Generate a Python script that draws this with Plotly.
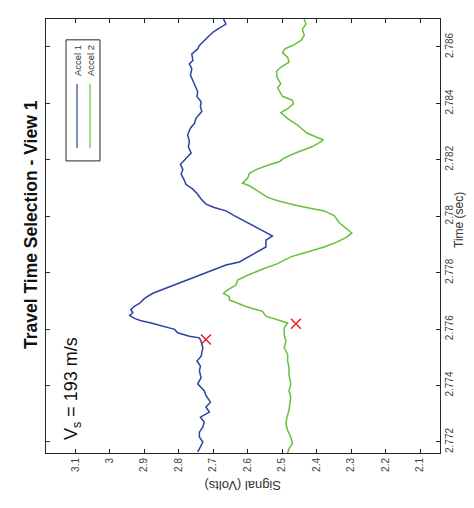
import plotly.graph_objects as go

# ---- data ----
t1 = [2.78699, 2.78681, 2.78663, 2.78652, 2.78634, 2.78622, 2.78605, 2.78593, 2.78575, 2.78552,
      2.78540, 2.78522, 2.78499, 2.78481, 2.78458, 2.78441, 2.78424, 2.78406, 2.78388, 2.78371,
      2.78347, 2.78330, 2.78312, 2.78289, 2.78265, 2.78247, 2.78224, 2.78200, 2.78184, 2.78166,
      2.78149, 2.78131, 2.78113, 2.78096, 2.78078, 2.78061, 2.78043, 2.78031, 2.78019, 2.78002,
      2.77984, 2.77966, 2.77949, 2.77930, 2.77915, 2.77891, 2.77874, 2.77856, 2.77838, 2.77827,
      2.77809, 2.77791, 2.77774, 2.77762, 2.77744, 2.77727, 2.77709, 2.77691, 2.77680, 2.77669,
      2.77659, 2.77648, 2.77637, 2.77630, 2.77622, 2.77610, 2.77599, 2.77587, 2.77575, 2.77569,
      2.77557, 2.77534, 2.77504, 2.77487, 2.77469, 2.77452, 2.77428, 2.77406, 2.77382, 2.77365,
      2.77341, 2.77324, 2.77306, 2.77288, 2.77271, 2.77253, 2.77235, 2.77218, 2.77200, 2.77183,
      2.77165]
accel1 = [2.670, 2.663, 2.687, 2.701, 2.716, 2.726, 2.740, 2.745, 2.762, 2.759,
          2.769, 2.762, 2.766, 2.759, 2.750, 2.745, 2.747, 2.735, 2.737, 2.733,
          2.750, 2.754, 2.766, 2.774, 2.769, 2.772, 2.764, 2.783, 2.795, 2.788,
          2.793, 2.785, 2.779, 2.759, 2.745, 2.735, 2.721, 2.697, 2.663, 2.639,
          2.610, 2.581, 2.557, 2.528, 2.547, 2.547, 2.571, 2.600, 2.624, 2.663,
          2.701, 2.740, 2.774, 2.803, 2.837, 2.875, 2.899, 2.914, 2.930, 2.939,
          2.933, 2.942, 2.927, 2.909, 2.880, 2.846, 2.812, 2.803, 2.769, 2.740,
          2.735, 2.730, 2.735, 2.747, 2.737, 2.740, 2.735, 2.745, 2.726, 2.721,
          2.708, 2.721, 2.711, 2.737, 2.726, 2.730, 2.740, 2.740, 2.730, 2.737,
          2.745]

t2 = [2.78699, 2.78681, 2.78663, 2.78640, 2.78622, 2.78605, 2.78593, 2.78579, 2.78564, 2.78546,
      2.78528, 2.78514, 2.78493, 2.78470, 2.78455, 2.78435, 2.78425, 2.78411, 2.78399, 2.78381,
      2.78367, 2.78346, 2.78323, 2.78311, 2.78294, 2.78270, 2.78247, 2.78224, 2.78205, 2.78193,
      2.78184, 2.78166, 2.78152, 2.78135, 2.78117, 2.78108, 2.78088, 2.78067, 2.78055, 2.78037,
      2.78019, 2.78002, 2.77978, 2.77955, 2.77941, 2.77927, 2.77909, 2.77891, 2.77874, 2.77856,
      2.77832, 2.77815, 2.77791, 2.77774, 2.77756, 2.77739, 2.77727, 2.77715, 2.77703, 2.77691,
      2.77680, 2.77675, 2.77663, 2.77646, 2.77634, 2.77622, 2.77605, 2.77581, 2.77557, 2.77534,
      2.77510, 2.77487, 2.77463, 2.77440, 2.77406, 2.77382, 2.77359, 2.77335, 2.77312, 2.77288,
      2.77265, 2.77241, 2.77218, 2.77194, 2.77177, 2.77161]
accel2 = [2.436, 2.431, 2.441, 2.436, 2.446, 2.470, 2.492, 2.499, 2.484, 2.480,
          2.504, 2.516, 2.515, 2.504, 2.513, 2.504, 2.499, 2.470, 2.467, 2.484,
          2.504, 2.484, 2.455, 2.444, 2.427, 2.380, 2.412, 2.461, 2.496, 2.508,
          2.533, 2.574, 2.595, 2.600, 2.615, 2.595, 2.571, 2.542, 2.513, 2.455,
          2.378, 2.349, 2.335, 2.311, 2.298, 2.311, 2.340, 2.378, 2.427, 2.475,
          2.513, 2.552, 2.600, 2.629, 2.634, 2.658, 2.670, 2.653, 2.653, 2.629,
          2.605, 2.591, 2.557, 2.547, 2.513, 2.484, 2.494, 2.494, 2.489, 2.494,
          2.484, 2.484, 2.480, 2.480, 2.475, 2.480, 2.475, 2.477, 2.480, 2.486,
          2.489, 2.484, 2.475, 2.470, 2.480, 2.484]

pick_t = [2.77563, 2.77619]
pick_v = [2.721, 2.460]

signal_ticks = [3.1, 3.0, 2.9, 2.8, 2.7, 2.6, 2.5, 2.4, 2.3, 2.2, 2.1]
signal_labels = ["3.1", "3", "2.9", "2.8", "2.7", "2.6", "2.5", "2.4", "2.3", "2.2", "2.1"]
time_ticks = [2.772, 2.774, 2.776, 2.778, 2.780, 2.782, 2.784, 2.786]
time_labels = ["2.772", "2.774", "2.776", "2.778", "2.78", "2.782", "2.784", "2.786"]
series_names = ["Accel 1", "Accel 2"]
colors = ["#2a44a0", "#66c03c"]

FONT = "Liberation Sans, Arial, sans-serif"
AX = "#262626"

fig = go.Figure()
fig.add_trace(go.Scatter(x=accel1, y=t1, mode="lines", name=series_names[0],
                         line=dict(color=colors[0], width=1.5), showlegend=False))
fig.add_trace(go.Scatter(x=accel2, y=t2, mode="lines", name=series_names[1],
                         line=dict(color=colors[1], width=1.5), showlegend=False))
fig.add_trace(go.Scatter(x=pick_v, y=pick_t, mode="markers", showlegend=False,
                         marker=dict(symbol="x-thin", size=10, color="#e8202a",
                                     line=dict(color="#e8202a", width=1.5))))

fig.update_layout(
    width=474, height=508,
    margin=dict(l=38, r=42, t=11, b=63),
    paper_bgcolor="white", plot_bgcolor="white",
    font=dict(family=FONT, color="#404040"),
    showlegend=False,
    xaxis=dict(range=[3.185, 2.042], tickvals=signal_ticks, ticktext=signal_labels,
               tickangle=-90, ticks="inside", ticklen=4, tickcolor=AX, automargin=False,
               showline=True, linecolor=AX, linewidth=1, mirror="ticks",
               showgrid=False, zeroline=False, tickfont=dict(size=10, color="#404040")),
    yaxis=dict(range=[2.77161, 2.78699], tickvals=time_ticks, ticktext=time_labels,
               side="right", tickangle=-90, ticks="inside", ticklen=4, tickcolor=AX,
               automargin=False,
               showline=True, linecolor=AX, linewidth=1, mirror="ticks",
               showgrid=False, zeroline=False, tickfont=dict(size=10, color="#404040")),
)

# legend (rotated, drawn manually)
fig.add_shape(type="rect", xref="paper", yref="paper", x0=0.0508, x1=0.137, y0=0.673, y1=0.952,
              line=dict(color=AX, width=1), fillcolor="white")
for xp, c, nm in [(0.0787, colors[0], series_names[0]), (0.1117, colors[1], series_names[1])]:
    fig.add_shape(type="line", xref="paper", yref="paper", x0=xp, x1=xp, y0=0.703, y1=0.850,
                  line=dict(color=c, width=1.2))
    fig.add_annotation(xref="paper", yref="paper", x=xp, y=0.903, text=nm, showarrow=False,
                       textangle=-90, font=dict(size=9.5, color="#333333"),
                       xanchor="center", yanchor="middle")

# title & labels
fig.add_annotation(xref="paper", yref="paper", x=(23 - 38) / 394, y=(445 - 217) / 434,
                   text="<b>Travel Time Selection - View 1</b>", showarrow=False, textangle=-90,
                   font=dict(size=17.5, color="#111111"), xanchor="center", yanchor="middle")
fig.add_annotation(xref="paper", yref="paper", x=(64 - 38) / 394, y=(445 - 381) / 434,
                   text="V<sub>s</sub> = 193 m/s", showarrow=False, textangle=-90,
                   font=dict(size=18, color="#111111"), xanchor="center", yanchor="middle")
fig.add_annotation(xref="paper", yref="paper", x=(460 - 38) / 394, y=(445 - 212) / 434,
                   text="Time (sec)", showarrow=False, textangle=-90,
                   font=dict(size=12, color="#333333"), xanchor="right", yanchor="middle")
fig.add_annotation(xref="paper", yref="paper", x=0.5, y=(445 - 478) / 434,
                   text="Signal (Volts)", showarrow=False, textangle=180,
                   font=dict(size=13, color="#333333"), xanchor="center", yanchor="middle")

fig.write_html("out.html")
